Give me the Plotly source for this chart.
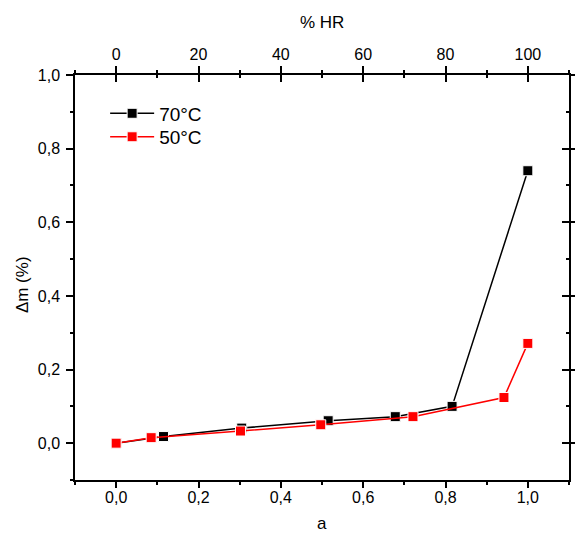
import plotly.graph_objects as go

# Data
a_70 = [0.0, 0.115, 0.305, 0.515, 0.678, 0.816, 1.0]
dm_70 = [0.0, 0.018, 0.041, 0.061, 0.072, 0.100, 0.740]
a_50 = [0.0, 0.085, 0.302, 0.497, 0.721, 0.942, 1.0]
dm_50 = [0.0, 0.015, 0.033, 0.050, 0.072, 0.124, 0.271]

x_range = [-0.1, 1.1]
y_range = [-0.1, 1.0]
hr_range = [-10, 110]

FONT = "Arial, Liberation Sans, sans-serif"

fig = go.Figure()
fig.add_trace(go.Scatter(
    x=a_70, y=dm_70, name="70°C", mode="lines+markers", legend="legend",
    line=dict(color="black", width=1.5),
    marker=dict(symbol="square", size=10, color="black", line=dict(color="white", width=1)),
))
fig.add_trace(go.Scatter(
    x=a_50, y=dm_50, name="50°C", mode="lines+markers", legend="legend2",
    line=dict(color="red", width=1.5),
    marker=dict(symbol="square", size=10, color="red", line=dict(color="white", width=1)),
))
# empty helper traces so the overlaying frame axes get drawn
for xa, ya in [("x2", "y"), ("x3", "y"), ("x", "y2"), ("x", "y3")]:
    fig.add_trace(go.Scatter(x=[None], y=[None], xaxis=xa, yaxis=ya, showlegend=False,
                             hoverinfo="skip", mode="markers"))

tickfont = dict(family=FONT, size=16, color="black")
common = dict(showgrid=False, zeroline=False, linecolor="black", linewidth=1.5,
              tickcolor="black", tickwidth=1.5, tickfont=tickfont, automargin=False)
minor_style = dict(tickwidth=1.5, tickcolor="black")

legend_style = dict(xanchor="left", yanchor="top",
                    font=dict(family=FONT, size=19, color="black"),
                    bgcolor="rgba(0,0,0,0)", itemwidth=44)

fig.update_layout(
    width=575, height=535,
    margin=dict(l=75, r=6, t=75, b=55),
    paper_bgcolor="white", plot_bgcolor="white",
    separators=",.",
    font=dict(family=FONT, color="black"),
    showlegend=True,
    legend=dict(x=0.061, y=0.952, **legend_style),
    legend2=dict(x=0.061, y=0.894, **legend_style),
    xaxis=dict(range=x_range, tick0=0, dtick=0.2, tickformat=".1f",
               ticks="outside", ticklen=6, showline=True, ticklabelstandoff=-4,
               minor=dict(dtick=0.1, tick0=0, ticks="outside", ticklen=3, **minor_style),
               **common),
    xaxis2=dict(range=hr_range, overlaying="x", side="top", anchor="y",
                tick0=0, dtick=20, ticks="outside", ticklen=7, showline=True,
                minor=dict(dtick=10, tick0=0, ticks="outside", ticklen=3, **minor_style),
                **common),
    xaxis3=dict(range=hr_range, overlaying="x", side="top", anchor="y",
                tick0=0, dtick=20, ticks="inside", ticklen=7, showline=False, showticklabels=False,
                minor=dict(dtick=10, tick0=0, ticks="inside", ticklen=3, **minor_style),
                **common),
    yaxis=dict(range=y_range, tick0=0, dtick=0.2, tickformat=".1f",
               ticks="outside", ticklen=7, showline=True, ticklabelstandoff=3, mirror=True,
               minor=dict(dtick=0.1, tick0=0, ticks="outside", ticklen=3, **minor_style),
               **common),
    yaxis2=dict(range=y_range, overlaying="y", side="right", anchor="x",
                tick0=0, dtick=0.2, ticks="inside", ticklen=7, showline=True, showticklabels=False,
                minor=dict(dtick=0.1, tick0=0, ticks="inside", ticklen=3, **minor_style),
                **common),
    yaxis3=dict(range=y_range, overlaying="y", side="right", anchor="x",
                tick0=0, dtick=0.2, ticks="outside", ticklen=7, showline=False, showticklabels=False,
                **common),
    annotations=[
        dict(text="% HR", xref="paper", yref="paper", x=0.5, y=1.13,
             xanchor="center", yanchor="middle", showarrow=False,
             font=dict(family=FONT, size=17, color="black")),
        dict(text="a", xref="paper", yref="paper", x=0.5, y=-0.108,
             xanchor="center", yanchor="middle", showarrow=False,
             font=dict(family=FONT, size=17, color="black")),
        dict(text="Δm (%)", xref="paper", yref="paper", x=-0.105, y=0.4815,
             xanchor="center", yanchor="middle", showarrow=False, textangle=-90,
             font=dict(family=FONT, size=17, color="black")),
    ],
)

fig.write_html(
    "out.html",
    config={"displayModeBar": False},
    post_script="document.body.style.margin='0';"
                "document.documentElement.style.overflow='hidden';"
                "document.body.style.overflow='hidden';",
)
